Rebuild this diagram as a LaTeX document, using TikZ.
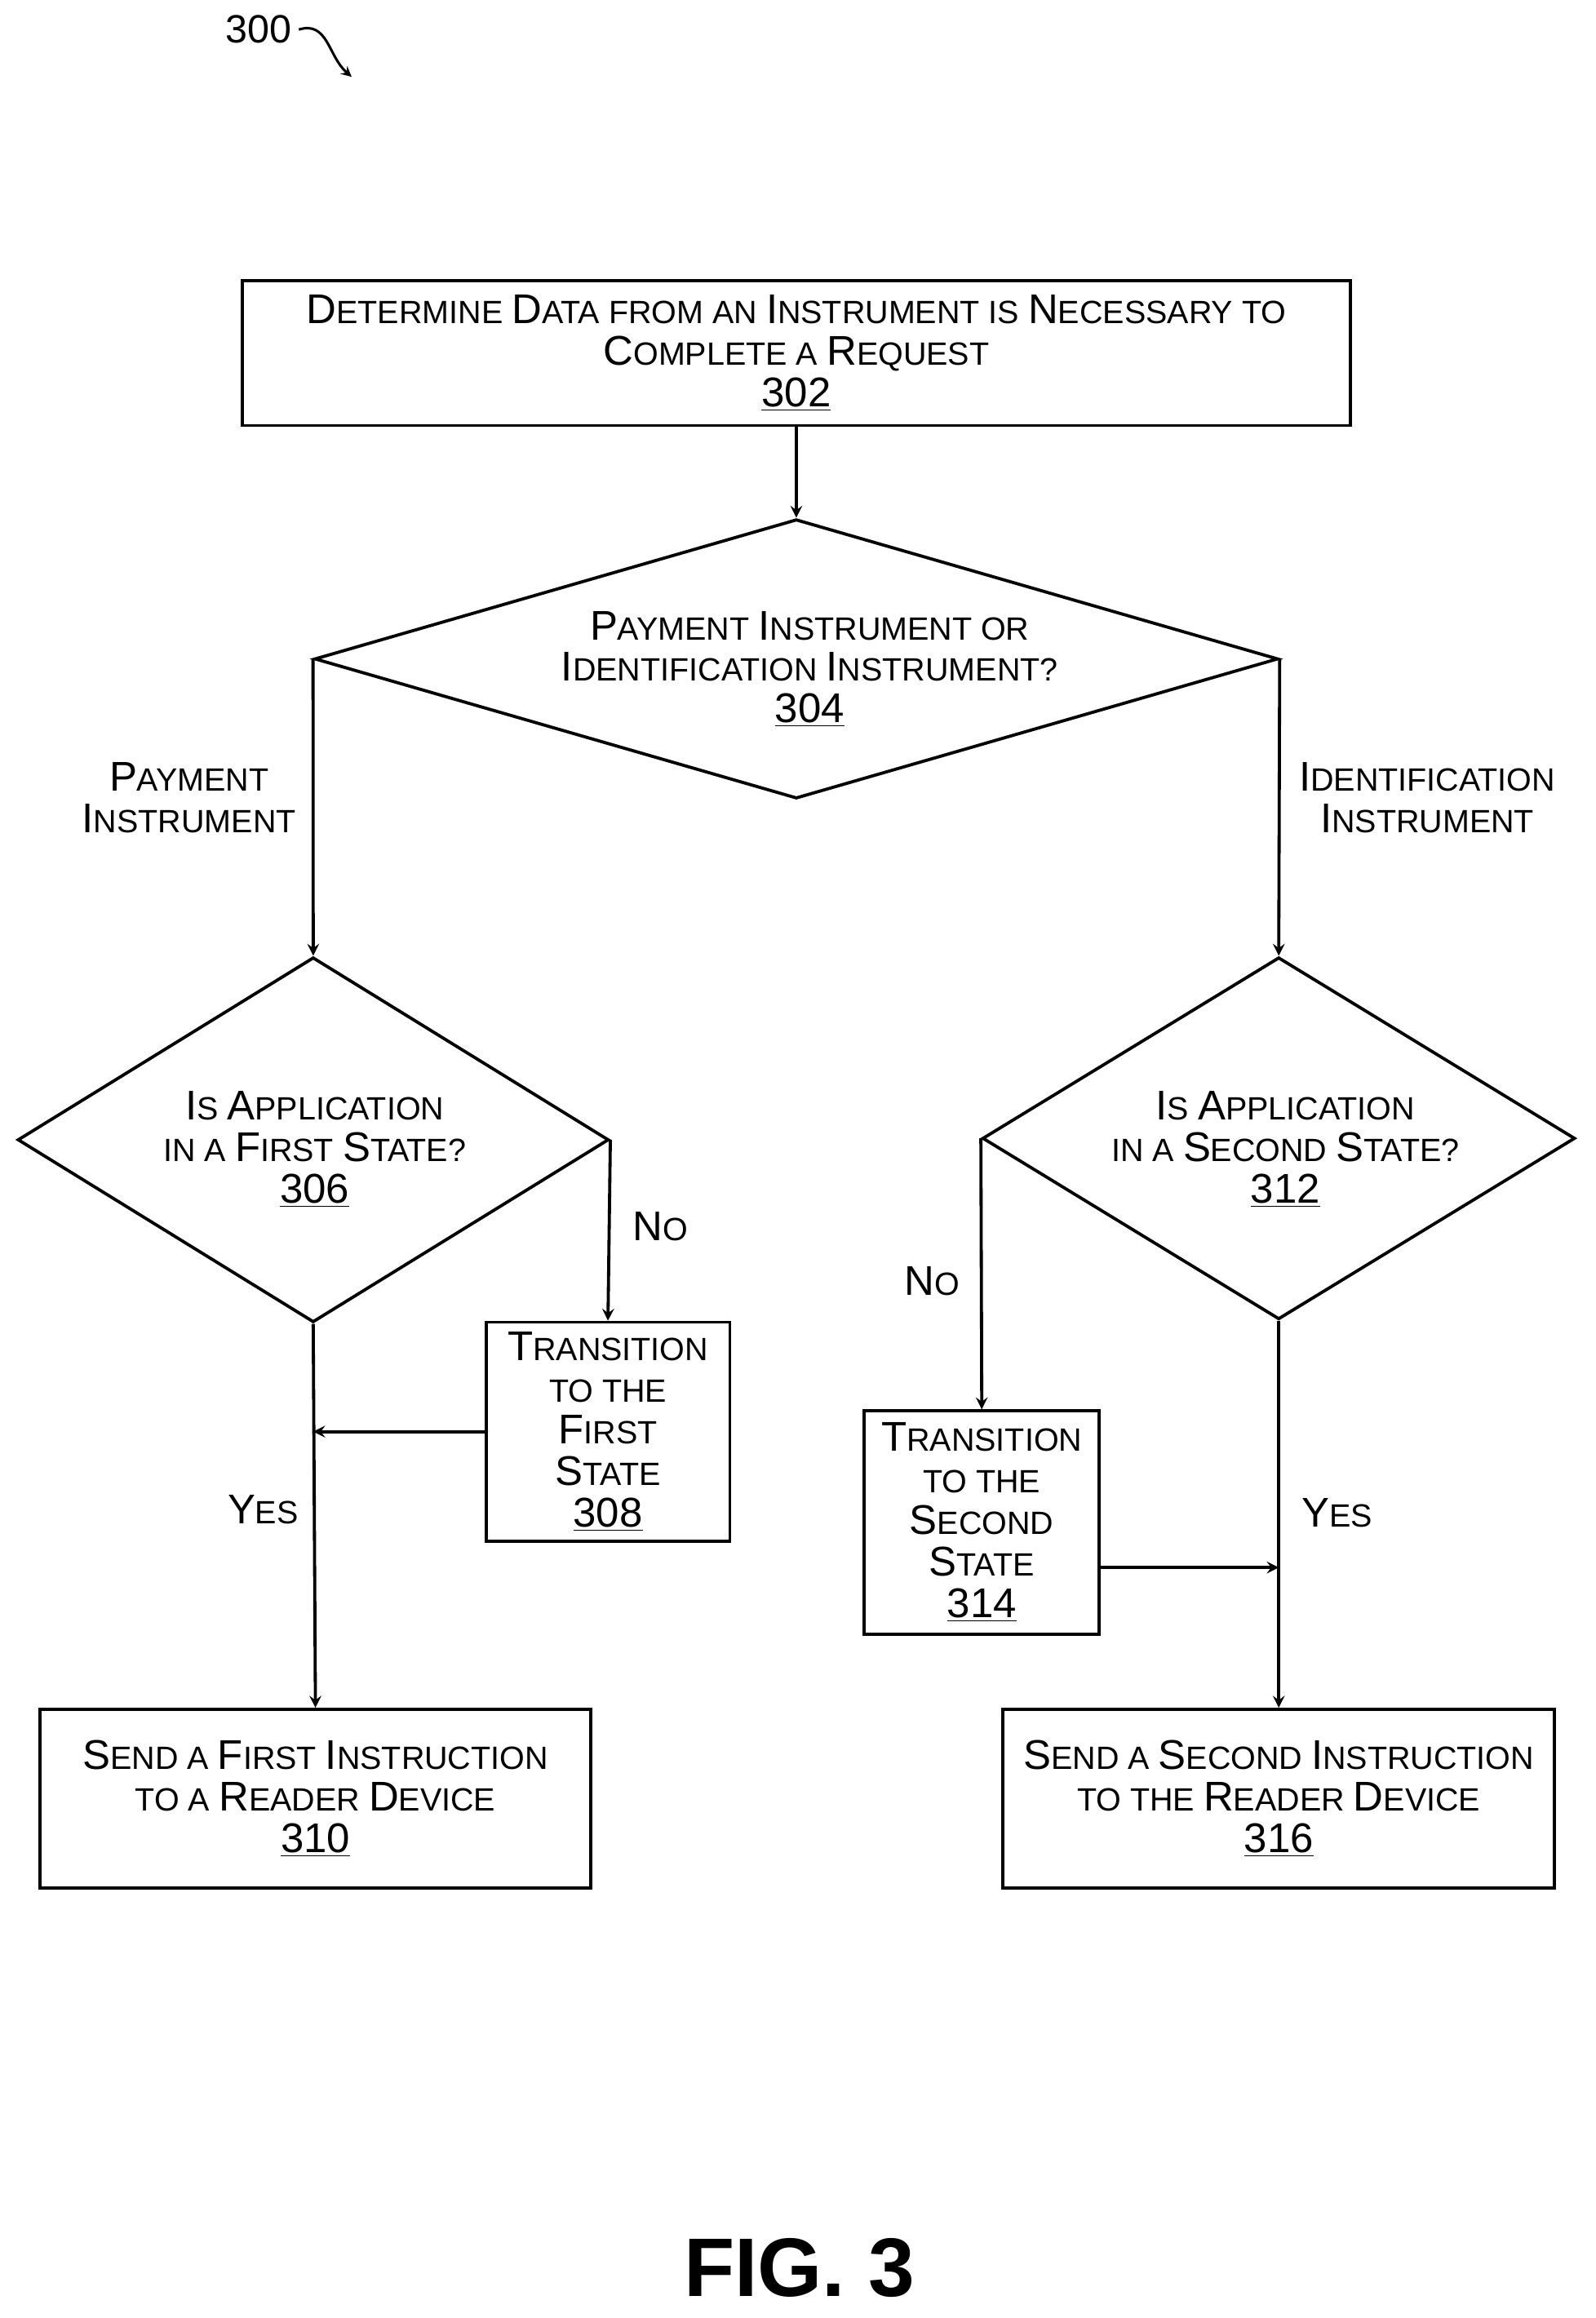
\documentclass[tikz,border=0pt]{standalone}
\usepackage{fontspec}
\setmainfont{Liberation Sans}
\usetikzlibrary{shapes.geometric, arrows, positioning, calc}
\newcommand{\B}[1]{{\fontsize{20}{20}\selectfont #1}}
\begin{document}
\begin{tikzpicture}[x=0.025cm, y=-0.025cm]
    \tikzstyle{process} = [rectangle, draw=black, line width=1.5pt, inner sep=0pt, align=center, font=\fontsize{15.5}{20}\selectfont]
    \tikzstyle{decision} = [diamond, draw=black, line width=1.5pt, inner sep=0pt]
    \tikzstyle{txt} = [align=center, font=\fontsize{15.5}{20}\selectfont]
    \tikzstyle{arrow} = [line width=1.5pt,->,>=stealth]

    \useasboundingbox (0,0) rectangle (1080,1569);

    \node[txt, font=\fontsize{19}{20}\selectfont] (lbl300) at (175,20) {300};
    \coordinate (tip300) at (238,52);
    \draw[line width=1.2pt,->,>=stealth] (lbl300.east) .. controls (222,14) and (222,38) .. (tip300);

    \node[process, minimum width=18.75cm, minimum height=2.45cm] (b302) at (539,239) {\B{D}ETERMINE \B{D}ATA FROM AN \B{I}NSTRUMENT IS \B{N}ECESSARY TO\\\B{C}OMPLETE A \B{R}EQUEST\\\B{\underline{302}}};

    \node[decision, minimum width=16.3cm, minimum height=4.725cm] (d304) at (539,446) {};
    \node[txt] (t304) at (548,453) {\B{P}AYMENT \B{I}NSTRUMENT OR\\\B{I}DENTIFICATION \B{I}NSTRUMENT?\\\B{\underline{304}}};

    \node[decision, minimum width=10cm, minimum height=6.175cm] (d306) at (212,771.5) {};
    \node[txt] (t306) at (213,778) {\B{I}S \B{A}PPLICATION\\IN A \B{F}IRST \B{S}TATE?\\\B{\underline{306}}};

    \node[decision, minimum width=10.025cm, minimum height=6.125cm] (d312) at (865.5,770.5) {};
    \node[txt] (t312) at (870,778) {\B{I}S \B{A}PPLICATION\\IN A \B{S}ECOND \B{S}TATE?\\\B{\underline{312}}};

    \node[process, minimum width=4.125cm, minimum height=3.7cm] (b308) at (411.5,969) {\B{T}RANSITION\\TO THE\\\B{F}IRST\\\B{S}TATE\\\B{\underline{308}}};
    \node[process, minimum width=3.975cm, minimum height=3.775cm] (b314) at (664.5,1030.5) {\B{T}RANSITION\\TO THE\\\B{S}ECOND\\\B{S}TATE\\\B{\underline{314}}};

    \node[process, minimum width=9.325cm, minimum height=3.025cm] (b310) at (213.5,1217.5) {\B{S}END A \B{F}IRST \B{I}NSTRUCTION\\TO A \B{R}EADER \B{D}EVICE\\\B{\underline{310}}};
    \node[process, minimum width=9.325cm, minimum height=3.025cm] (b316) at (865.5,1217.5) {\B{S}END A \B{S}ECOND \B{I}NSTRUCTION\\TO THE \B{R}EADER \B{D}EVICE\\\B{\underline{316}}};

    \node[txt] (l304a) at (128,540) {\B{P}AYMENT\\\B{I}NSTRUMENT};
    \node[txt] (l304b) at (966,540) {\B{I}DENTIFICATION\\\B{I}NSTRUMENT};
    \node[txt] (l306no) at (447,830) {\B{N}O};
    \node[txt] (l306yes) at (178,1022) {\B{Y}ES};
    \node[txt] (l312no) at (631,867) {\B{N}O};
    \node[txt] (l312yes) at (905,1024) {\B{Y}ES};

    \node[font=\fontsize{40}{44}\selectfont\bfseries] (fig) at (541,1535) {FIG. 3};

    \coordinate (j314) at (b314.east |- 0,1061);

    \draw[arrow] (b302) -- (d304.north);
    \draw[arrow] (d304.west) -- (d306.north);
    \draw[arrow] (d304.east) -- (d312.north);
    \draw[arrow] (d306.east) -- (b308.north);
    \draw[arrow] (b308.west) -- (d306.south |- b308.west);
    \draw[arrow] (d306.south) -- (b310.north);
    \draw[arrow] (d312.west) -- (b314.north);
    \draw[arrow] (j314) -- (d312.south |- j314);
    \draw[arrow] (d312.south) -- (b316.north);
\end{tikzpicture}
\end{document}
